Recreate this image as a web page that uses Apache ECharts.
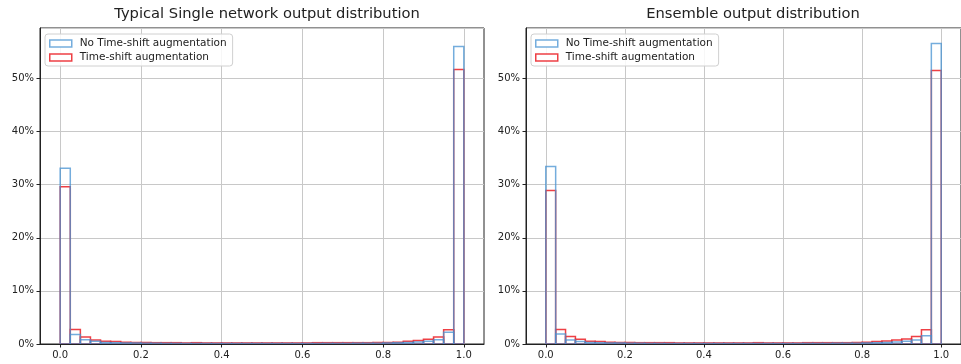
<!DOCTYPE html>
<html>
<head>
<meta charset="utf-8">
<script src="https://cdn.jsdelivr.net/npm/echarts@6/dist/echarts.min.js"></script>
<style>
  html, body { margin: 0; padding: 0; background: #fff; }
  #chart { width: 961px; height: 364px; }
</style>
</head>
<body>
<div id="chart"></div>
<script>
// 40 bins of width 0.025 on [0, 1], heights in % of samples
const binCount = 40;
const binWidth = 1 / binCount;
const xTicks = [0, 0.2, 0.4, 0.6, 0.8, 1.0];
const seriesNames = ['No Time-shift augmentation', 'Time-shift augmentation'];
const titles = ['Typical Single network output distribution', 'Ensemble output distribution'];

const singleNoShift = [
  33.1, 1.8, 0.8, 0.5, 0.3, 0.25, 0.2, 0.2,
  0.15, 0.15, 0.12, 0.12, 0.1, 0.1, 0.1, 0.1, 0.1, 0.1, 0.1, 0.1,
  0.1, 0.1, 0.1, 0.1, 0.1, 0.1, 0.12, 0.12, 0.12, 0.15, 0.15, 0.15,
  0.2, 0.25, 0.3, 0.4, 0.5, 0.8, 2.2, 56.0
];
const singleShift = [
  29.6, 2.75, 1.3, 0.75, 0.5, 0.45, 0.35, 0.3,
  0.3, 0.25, 0.25, 0.25, 0.2, 0.25, 0.2, 0.2, 0.2, 0.2, 0.2, 0.2,
  0.2, 0.2, 0.2, 0.2, 0.2, 0.25, 0.25, 0.25, 0.25, 0.25, 0.25, 0.3,
  0.3, 0.35, 0.5, 0.65, 0.9, 1.3, 2.7, 51.7
];
const ensembleNoShift = [
  33.4, 1.9, 0.75, 0.45, 0.3, 0.25, 0.2, 0.2,
  0.15, 0.15, 0.12, 0.12, 0.1, 0.1, 0.1, 0.1, 0.1, 0.1, 0.1, 0.1,
  0.1, 0.1, 0.1, 0.1, 0.1, 0.1, 0.12, 0.12, 0.12, 0.15, 0.15, 0.15,
  0.2, 0.25, 0.3, 0.4, 0.5, 0.75, 1.55, 56.6
];
const ensembleShift = [
  28.9, 2.75, 1.4, 0.9, 0.5, 0.45, 0.35, 0.3,
  0.3, 0.25, 0.25, 0.25, 0.25, 0.2, 0.2, 0.2, 0.2, 0.2, 0.2, 0.2,
  0.2, 0.25, 0.2, 0.2, 0.2, 0.2, 0.25, 0.25, 0.25, 0.25, 0.25, 0.3,
  0.35, 0.45, 0.55, 0.75, 0.95, 1.4, 2.7, 51.5
];

const BLUE = 'rgba(70,145,210,0.75)';
const RED = 'rgba(235,30,36,0.85)';
const FONT = 'DejaVu Sans';

const chart = echarts.init(document.getElementById('chart'), null, { renderer: 'canvas' });

function toBins(values) {
  return values.map((v, i) => [i * binWidth, (i + 1) * binWidth, v]);
}

function renderBin(params, api) {
  const topLeft = api.coord([api.value(0), api.value(2)]);
  const bottomRight = api.coord([api.value(1), 0]);
  return {
    type: 'rect',
    shape: {
      x: topLeft[0],
      y: topLeft[1],
      width: bottomRight[0] - topLeft[0],
      height: bottomRight[1] - topLeft[1]
    },
    style: { fill: 'none', stroke: api.visual('color'), lineWidth: 1.5 }
  };
}

const grids = [
  { left: 40, top: 28, width: 444, height: 316 },
  { left: 526, top: 28, width: 444, height: 316 }
];

const panels = [
  [singleShift, singleNoShift],
  [ensembleShift, ensembleNoShift]
];

const option = {
  animation: false,
  backgroundColor: '#fff',
  textStyle: { fontFamily: FONT },
  title: titles.map((t, i) => ({
    text: t,
    left: grids[i].left + grids[i].width / 2,
    textAlign: 'center',
    top: 2,
    textStyle: { fontFamily: FONT, fontSize: 14.7, fontWeight: 'normal', color: '#222' }
  })),
  legend: grids.map((g, i) => ({
    orient: 'vertical',
    left: g.left + 5,
    top: 34,
    padding: [4, 6, 3, 4],
    itemGap: 3,
    itemWidth: 22,
    itemHeight: 7,
    backgroundColor: 'rgba(255,255,255,0.85)',
    borderColor: '#d0d0d0',
    borderWidth: 1,
    borderRadius: 3,
    textStyle: { fontFamily: FONT, fontSize: 10.5, color: '#222', padding: [0, 0, 0, 3] },
    data: [
      { name: seriesNames[0], icon: 'rect', itemStyle: { color: '#fff', borderColor: BLUE, borderWidth: 1.5 } },
      { name: seriesNames[1], icon: 'rect', itemStyle: { color: '#fff', borderColor: RED, borderWidth: 1.5 } }
    ]
  })),
  grid: grids.map(g => Object.assign({ show: true, borderColor: '#222', borderWidth: 1, backgroundColor: 'transparent' }, g)),
  xAxis: grids.map((g, i) => ({
    type: 'value',
    gridIndex: i,
    min: -0.05,
    max: 1.05,
    axisLine: { show: true, onZero: false, lineStyle: { color: '#222', width: 1 } },
    axisTick: { show: true, length: 3.5, customValues: xTicks, lineStyle: { color: '#222' } },
    axisLabel: {
      customValues: xTicks,
      color: '#222',
      fontFamily: FONT,
      fontSize: 10,
      margin: 6,
      formatter: v => v.toFixed(1)
    },
    splitLine: { show: true, lineStyle: { color: '#c8c8c8', width: 1 } }
  })),
  yAxis: grids.map((g, i) => ({
    type: 'value',
    gridIndex: i,
    min: 0,
    max: 59.5,
    interval: 10,
    axisLine: { show: true, onZero: false, lineStyle: { color: '#222', width: 1 } },
    axisTick: { show: true, length: 3.5, lineStyle: { color: '#222' } },
    axisLabel: {
      color: '#222',
      fontFamily: FONT,
      fontSize: 10,
      margin: 6,
      showMaxLabel: false,
      formatter: '{value}%'
    },
    splitLine: { show: true, lineStyle: { color: '#c8c8c8', width: 1 } }
  })),
  series: []
};

panels.forEach((pair, i) => {
  option.series.push({
    name: seriesNames[1],
    type: 'custom',
    xAxisIndex: i,
    yAxisIndex: i,
    clip: true,
    itemStyle: { color: RED },
    renderItem: renderBin,
    encode: { x: [0, 1], y: 2 },
    data: toBins(pair[0])
  });
  option.series.push({
    name: seriesNames[0],
    type: 'custom',
    xAxisIndex: i,
    yAxisIndex: i,
    clip: true,
    itemStyle: { color: BLUE },
    renderItem: renderBin,
    encode: { x: [0, 1], y: 2 },
    data: toBins(pair[1])
  });
});

chart.setOption(option);
</script>
</body>
</html>
